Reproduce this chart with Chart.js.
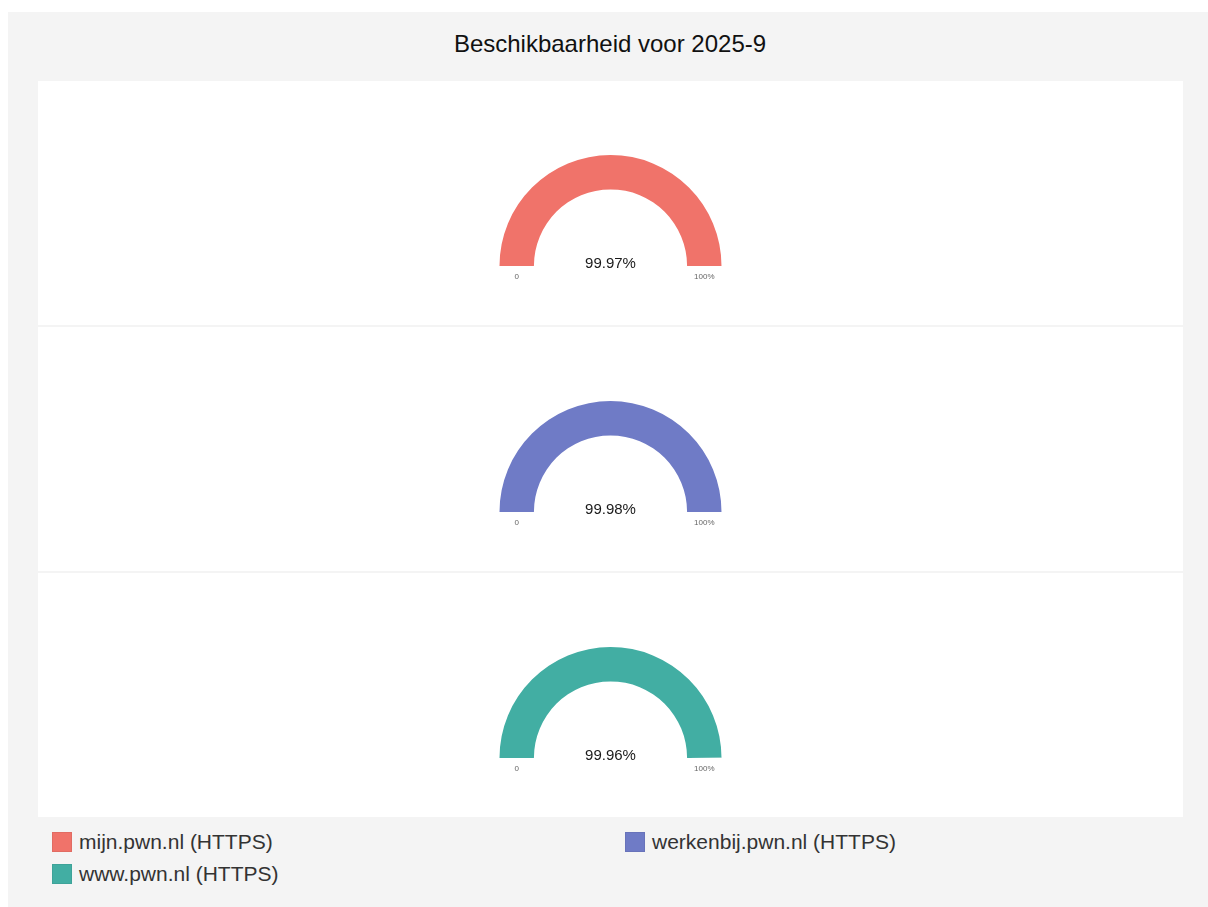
<!DOCTYPE html>
<html lang="nl">
<head>
<meta charset="UTF-8">
<title>Beschikbaarheid voor 2025-9</title>
<script src="https://cdn.jsdelivr.net/npm/chart.js"></script>
<style>
    body {
        margin: 0;
        background: #ffffff;
        font-family: "Liberation Sans", Arial, sans-serif;
    }

    .frame {
        position: absolute;
        left: 8px;
        top: 12px;
        width: 1200px;
        height: 895px;
        background: #f4f4f4;
    }

    .title {
        position: absolute;
        left: 0;
        top: 30px;
        width: 1220px;
        text-align: center;
        font-size: 24px;
        color: #111;
    }

    .panel {
        position: absolute;
        left: 38px;
        width: 1145px;
        height: 244px;
        background: #ffffff;
    }

    .legend-item {
        position: absolute;
        font-size: 21px;
        color: #333;
        line-height: 20px;
        white-space: nowrap;
    }

    .legend-item span {
        display: inline-block;
        width: 18px;
        height: 18px;
        vertical-align: top;
        margin-right: 7px;
        border: 1px solid rgba(0, 0, 0, 0.06);
    }
</style>
</head>
<body>

<div class="frame"></div>
<div class="title">Beschikbaarheid voor 2025-9</div>
<div id="panels"></div>
<div id="legend"></div>

<script>
    // data
    const hosts = ['mijn.pwn.nl (HTTPS)', 'werkenbij.pwn.nl (HTTPS)', 'www.pwn.nl (HTTPS)'];
    const uptime = [99.97, 99.98, 99.96];
    const colors = ['#f0736a', '#6f7bc6', '#42aea3'];
    const minLabel = '0';
    const maxLabel = '100%';

    const panelTops = [81, 327, 573];
    const legendPos = [[52, 832], [625, 832], [52, 864]];

    // text in the gauge: value in the middle, 0 and 100% under the ends
    const gaugeText = {
        id: 'gaugeText',
        afterDraw(chart) {
            const arc = chart.getDatasetMeta(0).data[0];
            if (!arc) return;
            const ctx = chart.ctx;
            const mid = (arc.innerRadius + arc.outerRadius) / 2;
            ctx.save();
            ctx.textAlign = 'center';
            ctx.textBaseline = 'middle';
            ctx.fillStyle = '#1a1a1a';
            ctx.font = '15px "Liberation Sans", Arial, sans-serif';
            ctx.fillText(chart.options.plugins.gaugeText.value.toFixed(2) + '%', arc.x, arc.y - 2);
            ctx.fillStyle = '#666';
            ctx.font = '8px "Liberation Sans", Arial, sans-serif';
            ctx.fillText(minLabel, arc.x - mid, arc.y + 11);
            ctx.fillText(maxLabel, arc.x + mid, arc.y + 11);
            ctx.restore();
        }
    };

    const panels = document.getElementById('panels');
    hosts.forEach((host, i) => {
        const div = document.createElement('div');
        div.className = 'panel';
        div.style.top = panelTops[i] + 'px';
        const canvas = document.createElement('canvas');
        canvas.width = 1145;
        canvas.height = 244;
        div.appendChild(canvas);
        panels.appendChild(div);

        new Chart(canvas, {
            type: 'doughnut',
            data: {
                labels: [host, ''],
                datasets: [{
                    data: [uptime[i], 100 - uptime[i]],
                    backgroundColor: [colors[i], '#e6e6e6'],
                    borderWidth: 0
                }]
            },
            options: {
                responsive: false,
                animation: false,
                rotation: -90,
                circumference: 180,
                radius: 111,
                cutout: '69%',
                layout: { padding: { top: 15 } },
                plugins: {
                    legend: { display: false },
                    tooltip: { enabled: false },
                    gaugeText: { value: uptime[i] }
                }
            },
            plugins: [gaugeText]
        });
    });

    const legend = document.getElementById('legend');
    hosts.forEach((host, i) => {
        const item = document.createElement('div');
        item.className = 'legend-item';
        item.style.left = legendPos[i][0] + 'px';
        item.style.top = legendPos[i][1] + 'px';
        item.innerHTML = '<span style="background:' + colors[i] + '"></span>' + host;
        legend.appendChild(item);
    });
</script>

</body>
</html>
